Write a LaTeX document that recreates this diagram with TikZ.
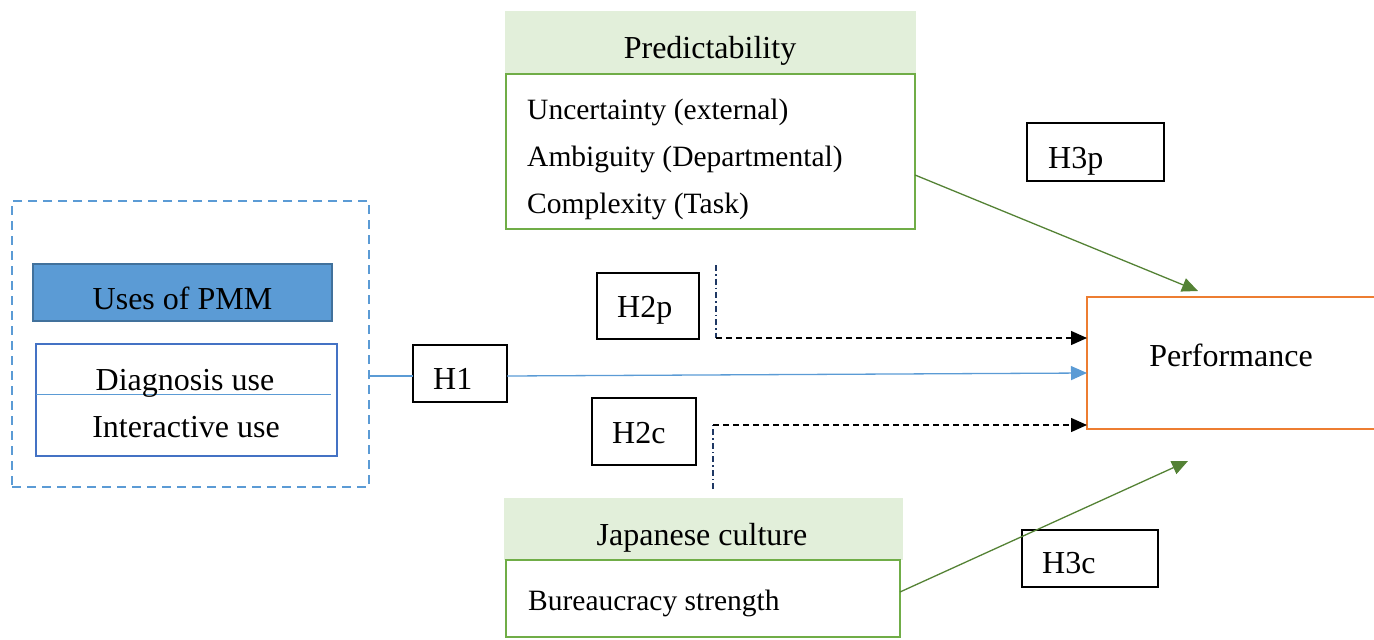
\documentclass[tikz,border=0pt]{standalone}
\usepackage{fontspec}
\setmainfont{Liberation Serif}
\usetikzlibrary{arrows.meta}
\definecolor{lgreen}{HTML}{E2EFDA}
\definecolor{bgreen}{HTML}{70AD47}
\definecolor{agreen}{HTML}{548235}
\definecolor{lblue}{HTML}{5B9BD5}
\definecolor{dblue}{HTML}{41719C}
\definecolor{mblue}{HTML}{4472C4}
\definecolor{orng}{HTML}{ED7D31}
\definecolor{navy}{HTML}{1F3864}
\tikzset{
  box/.style={inner sep=0pt, outer sep=0pt},
  hbox/.style={box, draw=black, line width=1.3pt, fill=white},
  big/.style={inner sep=0pt, font=\fontsize{32}{37}\selectfont},
  small/.style={inner sep=0pt, font=\fontsize{29.5}{35}\selectfont},
  arrowtip/.style={-{Triangle[length=16pt,width=14pt]}},
  dashdotline/.style={navy, line width=1.2pt, dash pattern=on 6pt off 3pt on 1.5pt off 3pt},
  dashline/.style={black, line width=1.4pt, dash pattern=on 6pt off 4pt},
}
\begin{document}
\begin{tikzpicture}[x=1pt,y=-1pt]
\useasboundingbox (0,0) rectangle (1374,640);
% left group
\node[box, draw=lblue, line width=2.2pt, dash pattern=on 9pt off 6pt, minimum width=357pt, minimum height=286pt] (grp) at (190.5,344) {};
\node[box, fill=lblue, draw=dblue, line width=2.2pt, minimum width=299pt, minimum height=57pt] (pmm) at (182.5,292.5) {};
\node[big, anchor=base] (pmmt) at (182.5,309) {Uses of PMM};
\node[box, draw=mblue, line width=2.6pt, minimum width=301pt, minimum height=112pt] (uses) at (186.5,400) {};
\draw[lblue, line width=1pt] (uses.west |- 0,394) -- (331,394);
\node[big, anchor=base] (diag) at (185,390) {Diagnosis use};
\node[big, anchor=base] (inter) at (186,437) {Interactive use};
% H1
\node[hbox, minimum width=94pt, minimum height=57pt] (h1) at (460,373.5) {};
\node[big, anchor=base west] (h1t) at (433,389) {H1};
% Predictability
\node[box, fill=lgreen, minimum width=411pt, minimum height=63pt] (predh) at (710.5,42.5) {};
\node[big, anchor=base] (predt) at (710,58) {Predictability};
\node[box, draw=bgreen, line width=2.6pt, fill=white, minimum width=409pt, minimum height=155pt] (pred) at (710.5,151.5) {};
\node[small, anchor=base west] (unc) at (527,119) {Uncertainty (external)};
\node[small, anchor=base west] (amb) at (527,166) {Ambiguity (Departmental)};
\node[small, anchor=base west] (cpx) at (527,213) {Complexity (Task)};
% Japanese culture
\node[box, fill=lgreen, minimum width=399pt, minimum height=62pt] (japh) at (703.5,529) {};
\node[big, anchor=base] (japt) at (702,545) {Japanese culture};
\node[box, draw=bgreen, line width=2.6pt, fill=white, minimum width=394pt, minimum height=77pt] (jap) at (703,598.5) {};
\node[small, anchor=base west] (bur) at (528,610) {Bureaucracy strength};
% Performance
\node[box, draw=orng, line width=2.8pt, minimum width=292pt, minimum height=132pt] (perf) at (1233,363) {};
\node[big, anchor=base] (perft) at (1231,366) {Performance};
% H2p, H2c
\node[hbox, minimum width=102pt, minimum height=66pt] (h2p) at (648,306) {};
\node[big, anchor=base west] (h2pt) at (617,317) {H2p};
\node[hbox, minimum width=104pt, minimum height=67pt] (h2c) at (644,431.5) {};
\node[big, anchor=base west] (h2ct) at (612,443) {H2c};
% H3p
\node[hbox, minimum width=137pt, minimum height=58pt] (h3p) at (1095.5,152) {};
\node[big, anchor=base west] (h3pt) at (1048,168) {H3p};
% connectors
\coordinate (p2top) at (716,265);
\coordinate (p2bend) at (716,338);
\coordinate (c2bot) at (713,489);
\coordinate (c2bend) at (713,425);
\coordinate (g1) at (grp.east |- 0,376);
\coordinate (h1in) at (h1.west |- 0,376);
\coordinate (h1out) at (h1.east |- 0,376);
\coordinate (p1) at (perf.west |- 0,373);
\coordinate (p3p) at (1198,291);
\coordinate (p3c) at (1188,461);
\coordinate (predout) at (pred.east |- 0,175);
\coordinate (japout) at (jap.east |- 0,592);
\draw[lblue, line width=1.3pt] (g1) -- (h1in);
\draw[lblue, line width=1.3pt, arrowtip] (h1out) -- (p1);
\draw[dashdotline] (p2top) -- (p2bend);
\draw[dashline, arrowtip] (p2bend) -- (perf.west |- p2bend);
\draw[dashdotline] (c2bot) -- (c2bend);
\draw[dashline, arrowtip] (c2bend) -- (perf.west |- c2bend);
\draw[agreen, line width=1.3pt, arrowtip] (predout) -- (p3p);
% H3c
\node[hbox, minimum width=136pt, minimum height=57pt] (h3c) at (1090,558.5) {};
\node[big, anchor=base west] (h3ct) at (1042,573) {H3c};
\draw[agreen, line width=1.3pt, arrowtip] (japout) -- (p3c);
\end{tikzpicture}
\end{document}
